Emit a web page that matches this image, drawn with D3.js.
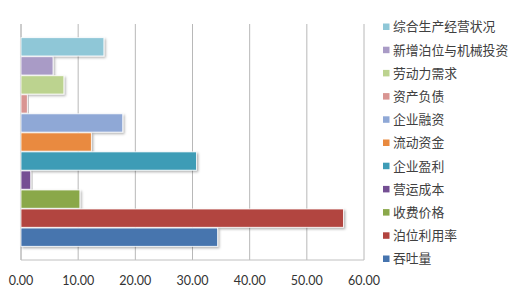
<!DOCTYPE html>
<html>
<head>
<meta charset="utf-8">
<script src="https://cdn.jsdelivr.net/npm/d3@7"></script>
<style>
  body { margin: 0; background: #fff; }
  svg { display: block; }
</style>
</head>
<body>
<svg id="chart"></svg>
<script>
const WIDTH = 512;
const HEIGHT = 304;

// series, top to bottom (same order as legend)
const seriesNames = ["综合生产经营状况", "新增泊位与机械投资", "劳动力需求", "资产负债",
  "企业融资", "流动资金", "企业盈利", "营运成本", "收费价格", "泊位利用率", "吞吐量"];
const seriesValues = [14.5, 5.6, 7.5, 1.1, 17.8, 12.3, 30.7, 1.7, 10.3, 56.4, 34.4];
const seriesColors = ["#8fc7d7", "#a99bc6", "#bcd38f", "#d99592", "#8fa8d6", "#e98a3f",
  "#3e9cb6", "#744f93", "#8aa84a", "#b2443f", "#4674ae"];
const xTicks = [0, 10, 20, 30, 40, 50, 60];

const plot = { left: 21, right: 364, top: 24, bottom: 260 };

const svg = d3.select("#chart").attr("width", WIDTH).attr("height", HEIGHT);

const defs = svg.append("defs");
defs.append("filter").attr("id", "shadow")
  .attr("x", "-10%").attr("y", "-30%").attr("width", "130%").attr("height", "180%")
  .append("feDropShadow")
  .attr("dx", 1.5).attr("dy", 1.5).attr("stdDeviation", 1)
  .attr("flood-color", "#000").attr("flood-opacity", 0.3);

const x = d3.scaleLinear().domain([0, 60]).range([plot.left, plot.right]);
const y = d3.scaleBand().domain(seriesNames)
  .range([plot.top, plot.bottom])
  .paddingInner(0.04).paddingOuter(0.72);

// gridlines
svg.append("g").selectAll("line").data(xTicks).enter()
  .append("line")
  .attr("x1", d => x(d)).attr("x2", d => x(d))
  .attr("y1", plot.top).attr("y2", plot.bottom)
  .attr("stroke", d => d === 0 ? "#9a9a9a" : "#b8b8b8")
  .attr("stroke-width", 1);

// bottom line of plot area
svg.append("line")
  .attr("x1", plot.left).attr("x2", plot.right)
  .attr("y1", plot.bottom).attr("y2", plot.bottom)
  .attr("stroke", "#c0c0c0");

// bars
svg.append("g").selectAll("rect").data(seriesNames).enter()
  .append("rect")
  .attr("x", x(0))
  .attr("y", d => y(d))
  .attr("width", (d, i) => x(seriesValues[i]) - x(0))
  .attr("height", y.bandwidth())
  .attr("fill", (d, i) => seriesColors[i])
  .attr("stroke", "#fff").attr("stroke-width", 0.8)
  .attr("filter", "url(#shadow)");

// x axis labels
svg.append("g").selectAll("text").data(xTicks).enter()
  .append("text")
  .attr("x", d => x(d)).attr("y", 285)
  .attr("text-anchor", "middle")
  .attr("font-family", "Lato, 'Open Sans', sans-serif")
  .attr("font-size", 12.5)
  .attr("fill", "#333")
  .text(d => d3.format(".2f")(d));

// legend
const legend = svg.append("g").selectAll("g").data(seriesNames).enter()
  .append("g")
  .attr("transform", (d, i) => `translate(383, ${27 + i * 23.2})`);

legend.append("rect")
  .attr("x", 0).attr("y", -3.5)
  .attr("width", 6.5).attr("height", 6.5)
  .attr("fill", (d, i) => seriesColors[i]);

legend.append("text")
  .attr("x", 10).attr("y", 0)
  .attr("dy", "0.35em")
  .attr("font-family", "'Noto Sans CJK SC', sans-serif")
  .attr("font-size", 12.8)
  .attr("fill", "#404040")
  .text(d => d);
</script>
</body>
</html>
